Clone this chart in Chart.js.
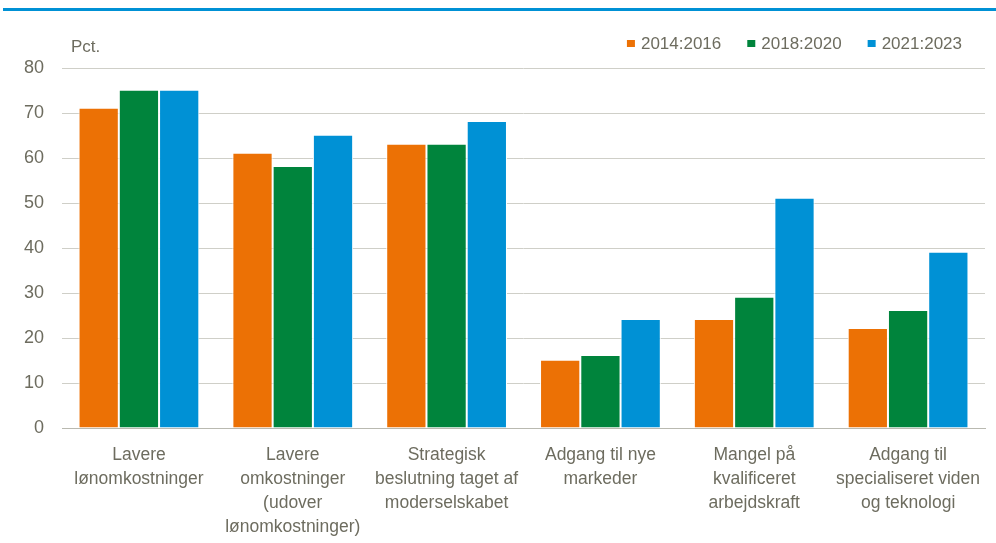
<!DOCTYPE html>
<html><head><meta charset="utf-8">
<script src="https://cdn.jsdelivr.net/npm/chart.js@4"></script>
<style>
html,body{margin:0;padding:0;background:#fff;}
#wrap{position:relative;width:996px;height:543px;}
#topline{position:absolute;left:3px;right:0;top:8px;height:3px;background:#0091D5;}
canvas{position:absolute;left:0;top:0;}
</style></head>
<body><div id="wrap"><canvas id="c" width="996" height="543"></canvas><div id="topline"></div></div>
<script>
const categories = [
  ["Lavere","lønomkostninger"],
  ["Lavere","omkostninger","(udover","lønomkostninger)"],
  ["Strategisk","beslutning taget af","moderselskabet"],
  ["Adgang til nye","markeder"],
  ["Mangel på","kvalificeret","arbejdskraft"],
  ["Adgang til","specialiseret viden","og teknologi"]
];
const seriesNames = ["2014:2016","2018:2020","2021:2023"];
const s2014 = [71,61,63,15,24,22];
const s2018 = [75,58,63,16,29,26];
const s2021 = [75,65,68,24,51,39];
const yTicks = [0,10,20,30,40,50,60,70,80];
const yUnit = "Pct.";

const colors = ["#EC7105","#00843C","#0091D5"];
const textColor = "#6d6c5f";
const font = "'Liberation Sans', Arial, sans-serif";

const unitLegendPlugin = {
  id:'unitLegend',
  afterDraw(chart){
    const ctx = chart.ctx, y = chart.scales.y;
    ctx.save();
    ctx.fillStyle = textColor;
    ctx.textBaseline = 'middle';
    ctx.textAlign = 'left';
    ctx.font = "17px " + font;
    ctx.fillText(yUnit, y.right + 9, 47);
    const items = chart.data.datasets.map(d=>({text:d.label,color:d.backgroundColor}));
    const sq = 8, gapSqText = 6, gapItems = 26;
    let widths = items.map(it=>sq+gapSqText+ctx.measureText(it.text).width);
    let total = widths.reduce((a,b)=>a+b,0) + gapItems*(items.length-1);
    let x = 962 - total;
    items.forEach((it,i)=>{
      ctx.fillStyle = it.color;
      ctx.fillRect(x, 40, sq, 7);
      ctx.fillStyle = textColor;
      ctx.fillText(it.text, x+sq+gapSqText, 44.5);
      x += widths[i] + gapItems;
    });
    ctx.restore();
  }
};

new Chart(document.getElementById('c'), {
  type:'bar',
  data:{
    labels: categories,
    datasets:[s2014,s2018,s2021].map((d,i)=>({
      label: seriesNames[i], data:d, backgroundColor:colors[i],
      borderColor:'#ffffff', borderWidth:{left:1,right:1,top:0,bottom:0},
      barPercentage:1, categoryPercentage:0.785
    }))
  },
  options:{
    responsive:false, animation:false,
    layout:{padding:{left:6,right:11,top:68,bottom:0}},
    plugins:{
      legend:{display:false},
      tooltip:{enabled:false}
    },
    scales:{
      x:{grid:{display:false,drawTicks:false},border:{display:true,color:'#b9b9b0',width:1},
        afterFit(ax){ ax.height = 115; },
        ticks:{color:textColor,font:{family:font,size:17.5,lineHeight:24/17.5},padding:15,maxRotation:0,autoSkip:false}},
      y:{min:0,max:80,afterBuildTicks(ax){ax.ticks=yTicks.map(v=>({value:v}));},
        grid:{color:'#cfcfc8',lineWidth:1,drawTicks:false},border:{display:false},
        ticks:{color:textColor,font:{family:font,size:18},padding:18}}
    }
  },
  plugins:[unitLegendPlugin]
});
</script></body></html>
